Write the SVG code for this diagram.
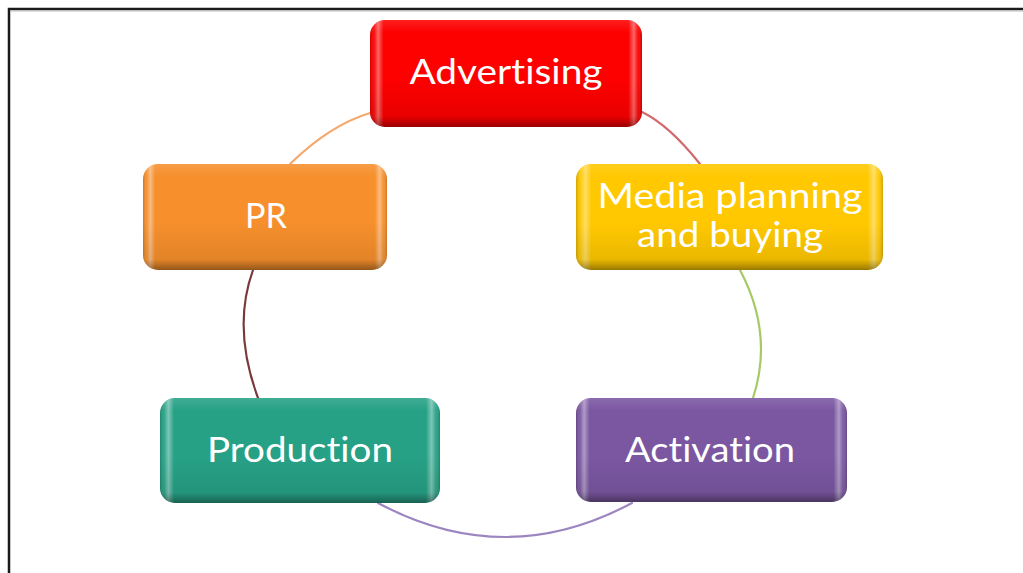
<svg xmlns="http://www.w3.org/2000/svg" width="1023" height="573" viewBox="0 0 1023 573">
<defs>
<linearGradient id="hl" x1="0" y1="0" x2="1" y2="0">
<stop offset="0" stop-color="#000" stop-opacity="0.18"/>
<stop offset="0.015" stop-color="#fff" stop-opacity="0.05"/>
<stop offset="0.03" stop-color="#fff" stop-opacity="0.4"/>
<stop offset="0.05" stop-color="#fff" stop-opacity="0"/>
<stop offset="0.95" stop-color="#fff" stop-opacity="0"/>
<stop offset="0.97" stop-color="#fff" stop-opacity="0.4"/>
<stop offset="0.985" stop-color="#fff" stop-opacity="0.05"/>
<stop offset="1" stop-color="#000" stop-opacity="0.18"/>
</linearGradient>
<linearGradient id="vl" x1="0" y1="0" x2="0" y2="1">
<stop offset="0" stop-color="#fff" stop-opacity="0.12"/>
<stop offset="0.12" stop-color="#fff" stop-opacity="0"/>
<stop offset="0.55" stop-color="#000" stop-opacity="0"/>
<stop offset="0.9" stop-color="#000" stop-opacity="0.08"/>
<stop offset="0.94" stop-color="#000" stop-opacity="0.2"/>
<stop offset="1" stop-color="#000" stop-opacity="0.4"/>
</linearGradient>
</defs>
<style>
.frame{fill:none;stroke:#1a1a1a;stroke-width:2.5}
.arc{fill:none;stroke-width:2.2;stroke-linecap:round}
.ov1{fill:url(#hl)}
.ov2{fill:url(#vl)}
.lbl{font-family:Lato,"Open Sans","Liberation Sans",sans-serif;font-size:34px;fill:#fff;text-anchor:middle;font-variant-ligatures:none;font-feature-settings:"liga" 0,"clig" 0}
</style>
<rect width="1023" height="573" fill="#fff"/>
<rect class="frame" x="9" y="9" width="1030" height="580"/>
<line x1="10" y1="11" x2="1023" y2="11" stroke="#bbb" stroke-width="1"/>
<g id="connectors">
<path class="arc" stroke="#f5a86c" d="M290,164 Q330,125 370,113"/>
<path class="arc" stroke="#d06a6c" d="M642,112 Q669,125 700,164"/>
<path class="arc" stroke="#a5c965" d="M740,270 Q774,334 753,398"/>
<path class="arc" stroke="#9c86c2" d="M632,503 Q505,571 378,503"/>
<path class="arc" stroke="#7a3a3c" d="M253,270 Q232,328 258,398"/>
</g>
<g id="node-advertising">
<rect x="370" y="20" width="272" height="107" rx="15" fill="#fd0000"/>
<rect class="ov1" x="370" y="20" width="272" height="107" rx="15"/>
<rect class="ov2" x="370" y="20" width="272" height="107" rx="15"/>
<text class="lbl" x="506" y="84" textLength="193" lengthAdjust="spacingAndGlyphs">Advertising</text>
</g>
<g id="node-media">
<rect x="576" y="164" width="307" height="106" rx="15" fill="#ffc800"/>
<rect class="ov1" x="576" y="164" width="307" height="106" rx="15"/>
<rect class="ov2" x="576" y="164" width="307" height="106" rx="15"/>
<text class="lbl" x="730" y="208" textLength="265" lengthAdjust="spacingAndGlyphs">Media planning</text>
<text class="lbl" x="730" y="247" textLength="186" lengthAdjust="spacingAndGlyphs">and buying</text>
</g>
<g id="node-pr">
<rect x="143" y="164" width="244" height="106" rx="15" fill="#f68f2c"/>
<rect class="ov1" x="143" y="164" width="244" height="106" rx="15"/>
<rect class="ov2" x="143" y="164" width="244" height="106" rx="15"/>
<text class="lbl" x="266" y="228" textLength="42" lengthAdjust="spacingAndGlyphs">PR</text>
</g>
<g id="node-production">
<rect x="160" y="398" width="280" height="105" rx="15" fill="#27a186"/>
<rect class="ov1" x="160" y="398" width="280" height="105" rx="15"/>
<rect class="ov2" x="160" y="398" width="280" height="105" rx="15"/>
<text class="lbl" x="300" y="462" textLength="186" lengthAdjust="spacingAndGlyphs">Production</text>
</g>
<g id="node-activation">
<rect x="576" y="398" width="271" height="104" rx="15" fill="#7b57a2"/>
<rect class="ov1" x="576" y="398" width="271" height="104" rx="15"/>
<rect class="ov2" x="576" y="398" width="271" height="104" rx="15"/>
<text class="lbl" x="710" y="462" textLength="170" lengthAdjust="spacingAndGlyphs">Activation</text>
</g>
</svg>
